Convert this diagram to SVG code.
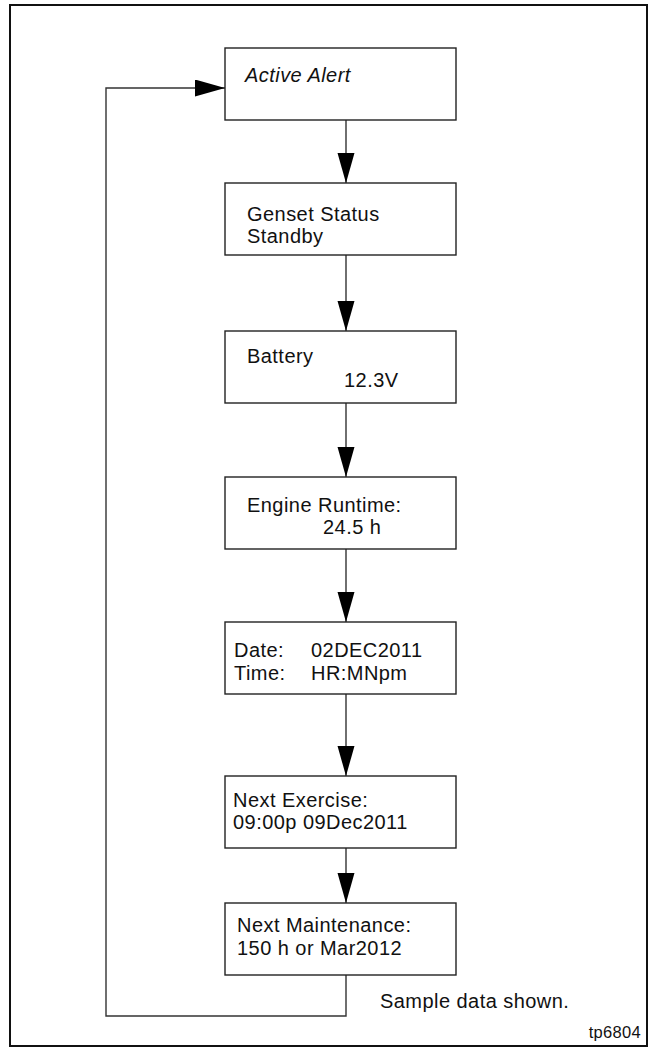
<svg xmlns="http://www.w3.org/2000/svg" width="654" height="1053" viewBox="0 0 654 1053">
<style>
.box{fill:#fff;stroke:#222;stroke-width:1.4}
.t{font-family:"Liberation Sans",Arial,sans-serif;font-size:20px;letter-spacing:0.45px;fill:#111}
.it{font-style:italic}
.c{fill:none;stroke:#333;stroke-width:1.4}
.small{font-size:16.5px;letter-spacing:0.3px}
</style>
<defs>
<marker id="ah" markerUnits="userSpaceOnUse" markerWidth="31" markerHeight="18" refX="30" refY="8.5" orient="auto" viewBox="0 0 31 18">
<path d="M0,0 L30,8.5 L0,17 z" fill="#000"/>
</marker>
</defs>
<rect x="10" y="5" width="637" height="1041" fill="#fff" stroke="#111" stroke-width="2"/>
<g id="connectors">
<line class="c" x1="346" y1="120" x2="346" y2="183" marker-end="url(#ah)"/>
<line class="c" x1="346" y1="255" x2="346" y2="331" marker-end="url(#ah)"/>
<line class="c" x1="346" y1="403" x2="346" y2="477" marker-end="url(#ah)"/>
<line class="c" x1="346" y1="549" x2="346" y2="622" marker-end="url(#ah)"/>
<line class="c" x1="346" y1="694" x2="346" y2="776" marker-end="url(#ah)"/>
<line class="c" x1="346" y1="848" x2="346" y2="903" marker-end="url(#ah)"/>
<polyline class="c" points="346,975 346,1016 106,1016 106,88 225,88" marker-end="url(#ah)"/>
</g>
<g id="n1">
<rect class="box" x="225" y="48" width="231" height="72"/>
<text class="t it" x="245" y="82">Active Alert</text>
</g>
<g id="n2">
<rect class="box" x="225" y="183" width="231" height="72"/>
<text class="t" x="247" y="221">Genset Status</text>
<text class="t" x="247" y="243">Standby</text>
</g>
<g id="n3">
<rect class="box" x="225" y="331" width="231" height="72"/>
<text class="t" x="247" y="363">Battery</text>
<text class="t" x="344" y="387">12.3V</text>
</g>
<g id="n4">
<rect class="box" x="225" y="477" width="231" height="72"/>
<text class="t" x="247" y="512">Engine Runtime:</text>
<text class="t" x="323" y="534">24.5 h</text>
</g>
<g id="n5">
<rect class="box" x="225" y="622" width="231" height="72"/>
<text class="t" x="234" y="657">Date:</text>
<text class="t" x="311" y="657">02DEC2011</text>
<text class="t" x="234" y="680">Time:</text>
<text class="t" x="311" y="680">HR:MNpm</text>
</g>
<g id="n6">
<rect class="box" x="225" y="776" width="231" height="72"/>
<text class="t" x="233" y="807">Next Exercise:</text>
<text class="t" x="233" y="829">09:00p 09Dec2011</text>
</g>
<g id="n7">
<rect class="box" x="225" y="903" width="231" height="72"/>
<text class="t" x="237" y="932">Next Maintenance:</text>
<text class="t" x="237" y="955">150 h or Mar2012</text>
</g>
<g id="notes">
<text class="t" x="380" y="1008">Sample data shown.</text>
<text class="t small" x="641" y="1038" text-anchor="end">tp6804</text>
</g>
</svg>
